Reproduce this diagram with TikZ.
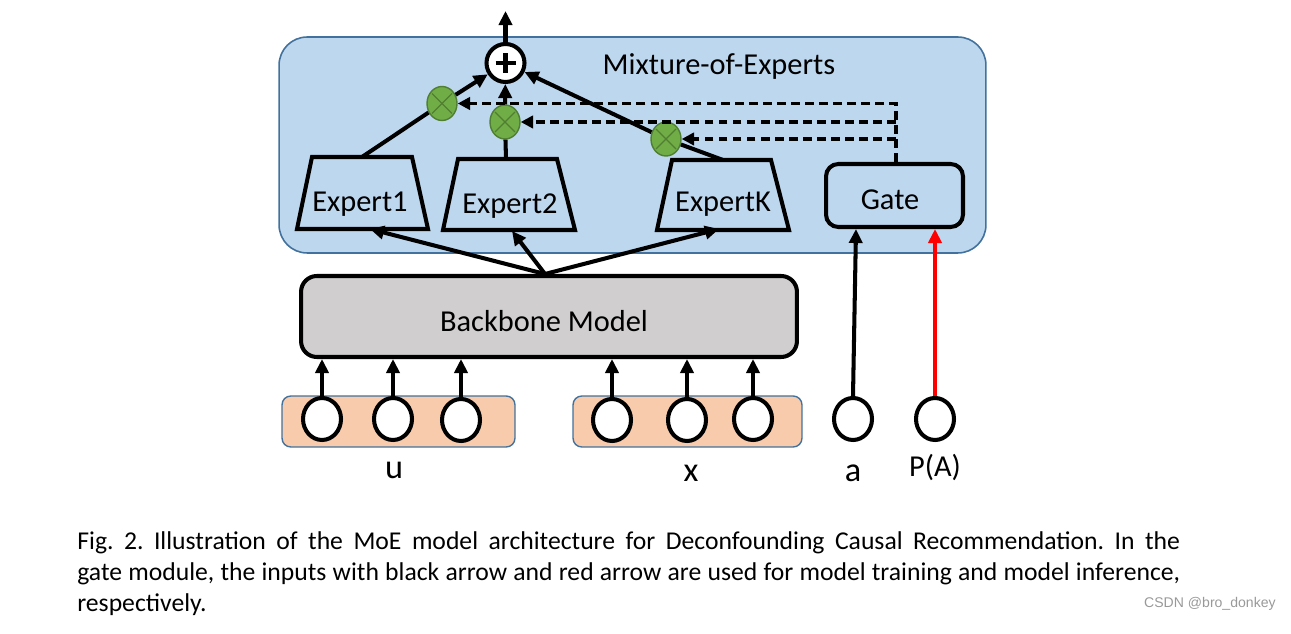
\documentclass[tikz,border=0pt]{standalone}
\usepackage{fontspec}
\setmainfont{Carlito}
\newfontfamily\wmfont{Liberation Sans}
\usetikzlibrary{arrows.meta,shapes.geometric}
\definecolor{moefill}{HTML}{BDD7EE}
\definecolor{moedraw}{HTML}{41719C}
\definecolor{bbfill}{HTML}{D0CECE}
\definecolor{inpfill}{HTML}{F8CBAD}
\definecolor{gfill}{HTML}{70AD47}
\definecolor{gdraw}{HTML}{507E32}
\begin{document}
\frenchspacing
\begin{tikzpicture}[x=0.02cm,y=-0.02cm,
  thk/.style={line width=2.3pt},
  arr/.style={thk,-{Triangle[length=8pt,width=7.5pt]}},
  darr/.style={line width=1.8pt,dash pattern=on 5pt off 3pt,-{Triangle[length=7pt,width=7pt]}},
  lbl/.style={font=\fontsize{17.3}{20}\selectfont},
  inp/.style={ellipse,draw,thk,fill=white,minimum width=0.76cm,minimum height=0.84cm,inner sep=0pt},
  inpbox/.style={draw=moedraw,line width=0.8pt,fill=inpfill,rounded corners=5pt,minimum height=1.02cm,inner sep=0pt},
  gmul/.style={ellipse,draw=gdraw,line width=0.8pt,fill=gfill,minimum width=0.6cm,minimum height=0.68cm,inner sep=0pt,
    path picture={\draw[gdraw,line width=0.7pt]
      ([shift={(-0.2cm,0.2cm)}]path picture bounding box.center) -- ([shift={(0.2cm,-0.2cm)}]path picture bounding box.center)
      ([shift={(-0.2cm,-0.2cm)}]path picture bounding box.center) -- ([shift={(0.2cm,0.2cm)}]path picture bounding box.center);}},
  expbox/.style={thk,fill=moefill,line join=miter},
  inlab/.style={font=\fontsize{19.5}{22}\selectfont}
]
\useasboundingbox (0,0) rectangle (1291,634);

% Mixture-of-Experts container
\node[draw=moedraw,line width=0.9pt,fill=moefill,rounded corners=16pt,minimum width=14.14cm,minimum height=4.32cm,inner sep=0pt] (moe) at (632.5,145) {};
\node[lbl,anchor=base] (moelab) at (719,75) {Mixture-of-Experts};

% Experts (trapezoids)
\draw[expbox] (312,157) -- (412,157) -- (428,229) -- (297,229) -- cycle;
\draw[expbox] (458,159) -- (557,159) -- (575,230) -- (443,230) -- cycle;
\draw[expbox] (672,160) -- (771,160) -- (789,230) -- (657,230) -- cycle;
\node[lbl,anchor=base] (e1) at (360,212) {Expert1};
\node[lbl,anchor=base] (e2) at (510,214) {Expert2};
\node[lbl,anchor=base] (e3) at (723,212) {ExpertK};
\coordinate (e1t) at (362,157);
\coordinate (e2t) at (506,159);
\coordinate (e3t) at (723,160);
\coordinate (e1b) at (370,229);
\coordinate (e2b) at (512,231);
\coordinate (e3b) at (719,229);

% Gate
\node[draw,thk,fill=moefill,rounded corners=7pt,minimum width=2.74cm,minimum height=1.26cm,inner sep=0pt] (gate) at (894.5,195.5) {};
\node[lbl,anchor=base] (gatelab) at (890,210) {Gate};

% sum and multipliers
\node[circle,draw,thk,fill=white,minimum size=0.76cm,inner sep=0pt,
  path picture={\draw[line width=2.6pt]
    ([xshift=-0.2cm]path picture bounding box.center) -- ([xshift=0.2cm]path picture bounding box.center)
    ([yshift=-0.2cm]path picture bounding box.center) -- ([yshift=0.2cm]path picture bounding box.center);}] (plus) at (505.5,63) {};
\coordinate (out) at (505.5,11);
\node[gmul] (g1) at (442,103.5) {};
\node[gmul] (g2) at (505,122) {};
\node[gmul] (g3) at (666,139) {};

% Backbone
\node[draw,thk,fill=bbfill,rounded corners=9pt,minimum width=9.92cm,minimum height=1.62cm,inner sep=0pt] (bb) at (549,316.5) {};
\node[lbl,anchor=base] (bblab) at (544,332) {Backbone Model};
\coordinate (bbt) at (545,274);

% inputs
\node[inpbox,minimum width=4.66cm] (ubox) at (398.5,421.5) {};
\node[inpbox,minimum width=4.58cm] (xbox) at (687.5,421.5) {};
\node[inp] (u1) at (322,419) {};
\node[inp] (u2) at (393,419) {};
\node[inp] (u3) at (461,420) {};
\node[inp] (x1) at (612,420) {};
\node[inp] (x2) at (687,420) {};
\node[inp] (x3) at (753,419) {};
\node[inp] (a) at (853,419) {};
\node[inp] (pa) at (935,419) {};
\node[inlab,anchor=base] (ul) at (394,479) {u};
\node[inlab,anchor=base] (xl) at (691,481) {x};
\node[inlab,anchor=base] (al) at (853,481) {a};
\node[lbl,anchor=base] (pal) at (935,477) {P(A)};
\coordinate (gin) at (856,229);

% connectors: inputs -> backbone
\foreach \n in {u1,u2,u3,x1,x2,x3}{
  \draw[arr] (\n.north) -- (\n.north |- bb.south);
}
% backbone -> experts
\draw[arr] (bbt) -- (e1b);
\draw[arr] (bbt) -- (e2b);
\draw[arr] (bbt) -- (e3b);
% experts -> multipliers -> sum
\draw[thk] (e1t) -- (g1);
\draw[thk] (e2t) -- (g2);
\draw[thk] (e3t) -- (g3);
\draw[arr] (g1) -- (plus);
\draw[arr] (g2) -- (plus);
\draw[arr] (g3) -- (plus);
\draw[arr] (plus.north) -- (out);
% gate -> multipliers
\draw[darr] ([xshift=0.03cm]gate.north) |- (g1);
\draw[darr] ([xshift=0.03cm]gate.north |- g2) -- (g2);
\draw[darr] ([xshift=0.03cm]gate.north |- g3) -- (g3);
% gate inputs
\draw[arr] (a.north) -- (gin);
\draw[arr,red] (pa.north) -- (pa.north |- gate.south);

% caption
\node[anchor=north west,inner sep=0pt,text width=22.06cm,align=justify,
  font=\fontsize{14.6}{17.6}\selectfont] (cap) at (77,531)
  {Fig.~2. Illustration of the MoE model architecture for Deconfounding Causal Recommendation. In the\linebreak
   gate module, the inputs with black arrow and red arrow are used for model training and model inference,\linebreak
   respectively.};
\node[anchor=east,inner sep=0pt,text=black!40,font=\wmfont\fontsize{8}{10}\selectfont] (wm) at (1276,604) {CSDN @bro\_donkey};
\end{tikzpicture}
\end{document}
